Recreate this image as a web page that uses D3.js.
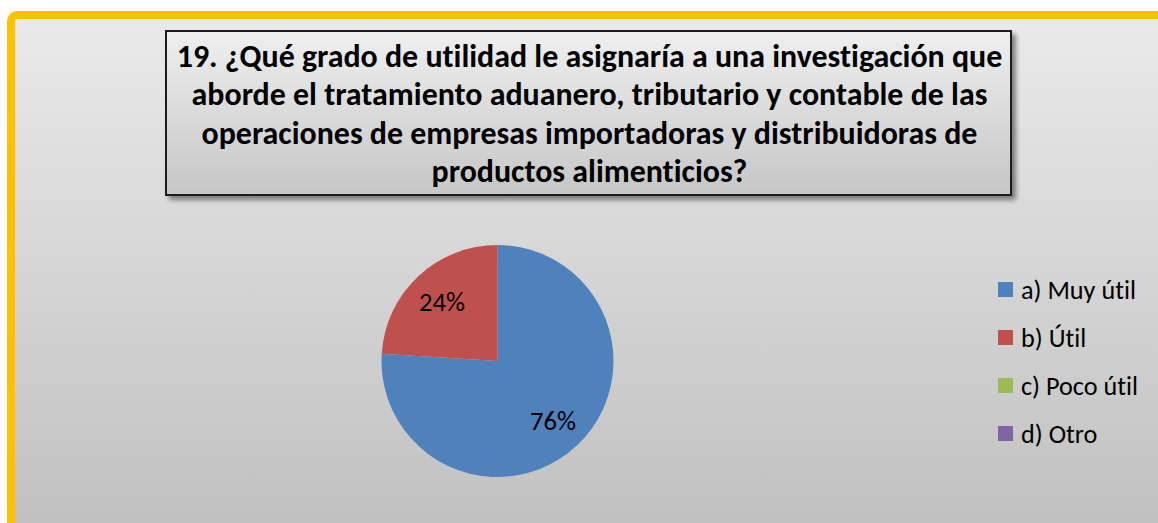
<!DOCTYPE html>
<html>
<head>
<meta charset="utf-8">
<script src="https://cdn.jsdelivr.net/npm/d3@7"></script>
<style>
  html, body { margin: 0; padding: 0; background: #ffffff; overflow: hidden; }
  svg { display: block; }
  text { font-variant-ligatures: none; font-feature-settings: "liga" 0; }
</style>
</head>
<body>
<svg id="chart" width="1158" height="523"></svg>
<script>
// Survey answers for question 19
const categories = ["a) Muy útil", "b) Útil", "c) Poco útil", "d) Otro"];
const percentages = [76, 24, 0, 0];
const colors = ["#4f81bd", "#c0504d", "#9bbb59", "#8064a2"];
const titleLines = [
  "19. ¿Qué grado de utilidad le asignaría a una investigación que",
  "aborde el tratamiento aduanero, tributario y contable de las",
  "operaciones de empresas importadoras y distribuidoras de",
  "productos alimenticios?"
];

const W = 1158, H = 523;
const FONT = "Carlito, Lato, 'Open Sans', sans-serif";
const svg = d3.select("#chart");
const defs = svg.append("defs");

// background gradient of the chart area
const bg = defs.append("linearGradient").attr("id", "bgGrad")
  .attr("x1", 0).attr("y1", 0).attr("x2", 0).attr("y2", 1);
bg.append("stop").attr("offset", "0%").attr("stop-color", "#eaeaea");
bg.append("stop").attr("offset", "100%").attr("stop-color", "#bcbcbc");

// title box gradient
const tg = defs.append("linearGradient").attr("id", "titleGrad")
  .attr("x1", 0).attr("y1", 0).attr("x2", 0).attr("y2", 1);
tg.append("stop").attr("offset", "0%").attr("stop-color", "#efefef");
tg.append("stop").attr("offset", "100%").attr("stop-color", "#c6c6c6");

const shadow = defs.append("filter").attr("id", "shadow")
  .attr("x", "-5%").attr("y", "-10%").attr("width", "115%").attr("height", "130%");
shadow.append("feGaussianBlur").attr("in", "SourceAlpha").attr("stdDeviation", 2.5).attr("result", "b");
shadow.append("feOffset").attr("in", "b").attr("dx", 4).attr("dy", 4).attr("result", "o");
shadow.append("feComponentTransfer").attr("in", "o").attr("result", "s")
  .append("feFuncA").attr("type", "linear").attr("slope", 0.45);
const merge = shadow.append("feMerge");
merge.append("feMergeNode").attr("in", "s");
merge.append("feMergeNode").attr("in", "SourceGraphic");

// chart area with orange frame (extends past right and bottom edges)
svg.append("rect")
  .attr("x", 11).attr("y", 15)
  .attr("width", W + 40).attr("height", H + 40)
  .attr("rx", 6)
  .attr("fill", "url(#bgGrad)")
  .attr("stroke", "#ffc000").attr("stroke-width", 8);

// scale a text's font size so that its width matches a target
function fitWidth(sel, base, target) {
  sel.attr("font-size", base);
  const len = sel.node().getComputedTextLength();
  return base * target / len;
}

// title box
const box = { x: 166, y: 31, w: 845, h: 164 };
svg.append("rect")
  .attr("x", box.x).attr("y", box.y).attr("width", box.w).attr("height", box.h)
  .attr("fill", "url(#titleGrad)")
  .attr("stroke", "#1a1a1a").attr("stroke-width", 2)
  .attr("filter", "url(#shadow)");

const title = svg.append("text")
  .attr("font-family", FONT)
  .attr("font-weight", "bold")
  .attr("font-size", 27)
  .attr("fill", "#000")
  .attr("text-anchor", "middle");
titleLines.forEach((line, i) => {
  title.append("tspan")
    .attr("x", box.x + box.w / 2 + 1)
    .attr("y", 67 + i * 38.3)
    .text(line);
});
const firstLen = title.select("tspan").node().getComputedTextLength();
title.attr("font-size", 27 * 826 / firstLen);

// pie
const cx = 497.5, cy = 361, r = 116;
const pie = d3.pie().sort(null).value(d => d)
  .startAngle(0).endAngle(2 * Math.PI);
const arcs = pie(percentages);
const arc = d3.arc().innerRadius(0).outerRadius(r);
const labelArc = d3.arc().innerRadius(r * 0.7).outerRadius(r * 0.7);

const pieG = svg.append("g").attr("transform", `translate(${cx},${cy})`);
pieG.selectAll("path")
  .data(arcs.filter(a => a.value > 0))
  .join("path")
  .attr("d", arc)
  .attr("fill", d => colors[d.index]);

const labels = pieG.selectAll("text")
  .data(arcs.filter(a => a.value > 0))
  .join("text")
  .attr("transform", d => `translate(${labelArc.centroid(d)})`)
  .attr("text-anchor", "middle")
  .attr("dy", "0.36em")
  .attr("font-family", FONT)
  .attr("fill", "#000")
  .text(d => d.value + "%");
const pctSize = fitWidth(labels.filter((d, i) => i === 1), 21, 46);
labels.attr("font-size", pctSize);

// legend
const legendY = d3.scalePoint().domain(categories).range([290, 434]);
const leg = svg.append("g");
categories.forEach((c, i) => {
  leg.append("rect")
    .attr("x", 998).attr("y", legendY(c) - 8)
    .attr("width", 15).attr("height", 15)
    .attr("fill", colors[i]);
});
const legText = leg.selectAll("text.lt")
  .data(categories)
  .join("text")
  .attr("class", "lt")
  .attr("x", 1021).attr("y", d => legendY(d))
  .attr("dy", "0.36em")
  .attr("font-family", FONT)
  .attr("fill", "#000")
  .text(d => d);
const legSize = fitWidth(legText.filter((d, i) => i === 0), 21, 115);
legText.attr("font-size", legSize);
</script>
</body>
</html>
